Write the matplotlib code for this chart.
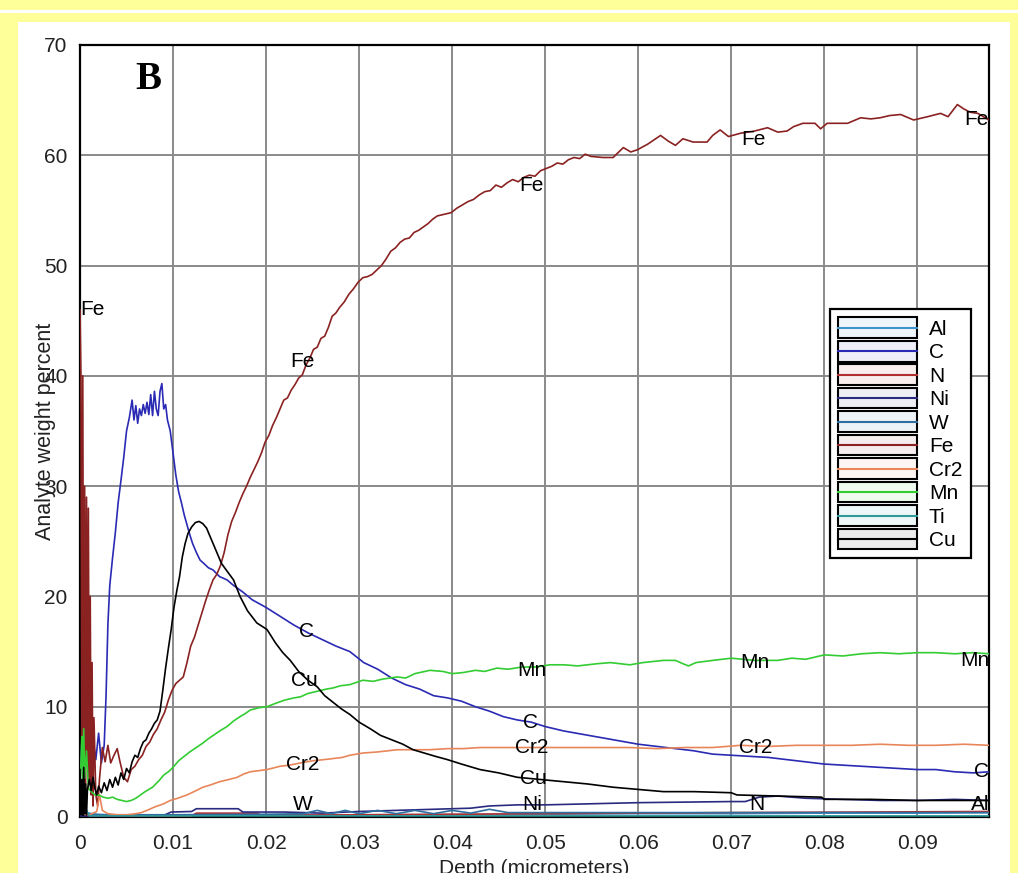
import numpy as np
import matplotlib
matplotlib.use("Agg")
import matplotlib.pyplot as plt
import matplotlib.colors as mcolors
from matplotlib.patches import Rectangle
from matplotlib.lines import Line2D
from matplotlib.legend_handler import HandlerBase

plt.rcParams['font.family'] = ['Liberation Sans', 'DejaVu Sans']

# depth (micrometers), analyte weight percent
fe_pts = [(0, 46), (0.0001, 40), (0.0002, 6), (0.0003, 40), (0.0004, 1), (0.0005, 30), (0.0006, 1),
          (0.0007, 29), (0.0008, 5), (0.0009, 28), (0.0010, 3), (0.0011, 20), (0.0012, 2), (0.0013, 14),
          (0.0014, 1), (0.0015, 9), (0.0017, 2), (0.0019, 1), (0.0021, 3.5), (0.0024, 6.3), (0.0027, 5.0),
          (0.0030, 6.5), (0.0033, 4.9), (0.0036, 5.5), (0.0040, 6.2), (0.0043, 5.0), (0.0047, 3.6),
          (0.0051, 3.2), (0.0055, 4.3), (0.0059, 4.6), (0.0063, 5.2), (0.0067, 5.6), (0.0071, 6.4),
          (0.0075, 6.8), (0.0079, 7.5), (0.0083, 8.0), (0.0087, 8.8), (0.0091, 9.5), (0.0095, 10.6),
          (0.0099, 11.5), (0.0103, 12.1), (0.0107, 12.4), (0.0111, 12.7), (0.0115, 14.0), (0.0119, 15.5),
          (0.0123, 16.3), (0.0127, 17.4), (0.0131, 18.5), (0.0135, 19.6), (0.0139, 20.6), (0.0143, 21.5),
          (0.0147, 22.0), (0.0151, 22.8), (0.0155, 24.0), (0.0159, 25.6), (0.0163, 26.8), (0.0167, 27.6),
          (0.0171, 28.5), (0.0175, 29.3), (0.0179, 30.0), (0.0183, 30.8), (0.0187, 31.5), (0.0191, 32.2),
          (0.0195, 33.0), (0.0199, 34.0), (0.0203, 34.6), (0.0207, 35.5), (0.0211, 36.2), (0.0215, 37.0),
          (0.0219, 37.8), (0.0223, 38.0), (0.0227, 38.7), (0.0231, 39.2), (0.0235, 39.8), (0.0239, 40.1),
          (0.0243, 41.0), (0.0247, 41.6), (0.0251, 42.4), (0.0255, 42.6), (0.0259, 43.4), (0.0263, 43.6),
          (0.0267, 44.4), (0.0271, 45.4), (0.0275, 45.7), (0.0279, 46.2), (0.0284, 46.7), (0.0289, 47.4),
          (0.0294, 47.9), (0.0299, 48.5), (0.0304, 48.9), (0.0309, 49.0), (0.0314, 49.2), (0.0319, 49.6),
          (0.0324, 50.0), (0.0329, 50.6), (0.0334, 51.3), (0.0339, 51.6), (0.0344, 52.1), (0.0349, 52.4),
          (0.0354, 52.5), (0.0359, 53.0), (0.0364, 53.2), (0.0369, 53.5), (0.0374, 53.8), (0.0379, 54.2),
          (0.0384, 54.5), (0.0389, 54.6), (0.0394, 54.7), (0.0399, 54.8), (0.0405, 55.2), (0.0411, 55.5),
          (0.0417, 55.8), (0.0423, 56.0), (0.0429, 56.4), (0.0435, 56.7), (0.0441, 56.8), (0.0447, 57.3),
          (0.0453, 57.1), (0.0459, 57.5), (0.0465, 57.8), (0.0471, 57.6), (0.0477, 58.0), (0.0483, 58.2),
          (0.0489, 58.1), (0.0495, 58.6), (0.0501, 58.8), (0.0507, 59.0), (0.0513, 59.3), (0.0519, 59.2),
          (0.0525, 59.6), (0.0531, 59.8), (0.0537, 59.7), (0.0543, 60.1), (0.0549, 59.9), (0.0562, 59.8),
          (0.0573, 59.8), (0.0584, 60.7), (0.0592, 60.3), (0.0599, 60.5), (0.0610, 61.0), (0.0624, 61.8),
          (0.0632, 61.3), (0.0640, 60.9), (0.0648, 61.5), (0.0659, 61.2), (0.0674, 61.2), (0.0680, 61.8),
          (0.0688, 62.3), (0.0697, 61.7), (0.0710, 62.0), (0.0725, 62.2), (0.0739, 62.5), (0.0750, 62.1),
          (0.0760, 62.2), (0.0767, 62.6), (0.0777, 62.9), (0.0790, 62.9), (0.0796, 62.4), (0.0803, 62.9),
          (0.0825, 62.9), (0.0839, 63.4), (0.0850, 63.3), (0.0860, 63.4), (0.0870, 63.6), (0.0882, 63.7),
          (0.0896, 63.2), (0.0911, 63.5), (0.0925, 63.8), (0.0933, 63.5), (0.0943, 64.6), (0.0950, 64.2),
          (0.0957, 63.9), (0.0965, 63.8), (0.0977, 63.2)]

c_pts = [(0, 3.0), (0.0003, 8.8), (0.0005, 7.5), (0.0008, 8.6), (0.0011, 6.4), (0.0014, 7.0), (0.0017, 5.2),
         (0.0020, 7.6), (0.0023, 4.9), (0.0026, 6.5), (0.0028, 11.0), (0.0030, 17.5), (0.0032, 21.0),
         (0.0035, 23.5), (0.0038, 25.8), (0.0041, 28.5), (0.0044, 30.5), (0.0047, 32.6), (0.0050, 35.0),
         (0.0053, 36.2), (0.0056, 37.8), (0.0058, 36.0), (0.0060, 37.3), (0.0062, 35.7), (0.0064, 37.0),
         (0.0066, 36.4), (0.0068, 37.4), (0.0070, 36.6), (0.0072, 37.6), (0.0074, 36.5), (0.0076, 38.3),
         (0.0078, 36.4), (0.0080, 38.6), (0.0082, 37.0), (0.0084, 36.4), (0.0086, 38.6), (0.0088, 39.3),
         (0.0090, 37.0), (0.0092, 37.4), (0.0094, 36.0), (0.0097, 35.0), (0.0100, 33.0), (0.0103, 31.0),
         (0.0106, 29.5), (0.0109, 28.5), (0.0112, 27.4), (0.0115, 26.5), (0.0118, 25.6), (0.0121, 24.8),
         (0.0125, 24.0), (0.0129, 23.3), (0.0133, 23.0), (0.0138, 22.6), (0.0143, 22.4), (0.0150, 21.8),
         (0.0158, 21.5), (0.0165, 21.0), (0.0175, 20.4), (0.0185, 19.7), (0.0200, 19.0), (0.0215, 18.2),
         (0.0230, 17.4), (0.0245, 16.7), (0.0260, 16.1), (0.0275, 15.5), (0.0290, 15.0), (0.0305, 14.0),
         (0.0320, 13.4), (0.0335, 12.6), (0.0350, 12.0), (0.0365, 11.6), (0.0380, 11.0), (0.0395, 10.8),
         (0.0410, 10.5), (0.0425, 10.0), (0.0440, 9.6), (0.0455, 9.1), (0.0470, 8.8), (0.0485, 8.6),
         (0.0500, 8.2), (0.0520, 7.8), (0.0540, 7.5), (0.0560, 7.2), (0.0580, 6.9), (0.0600, 6.6),
         (0.0620, 6.4), (0.0640, 6.2), (0.0660, 6.0), (0.0680, 5.7), (0.0700, 5.6), (0.0720, 5.5),
         (0.0740, 5.4), (0.0760, 5.2), (0.0780, 5.0), (0.0800, 4.8), (0.0820, 4.7), (0.0840, 4.6),
         (0.0860, 4.5), (0.0880, 4.4), (0.0900, 4.3), (0.0920, 4.3), (0.0940, 4.1), (0.0960, 4.0),
         (0.0977, 4.1)]

cu_pts = [(0, 4.3), (0.0001, 0.2), (0.0002, 3.4), (0.0003, 0.1), (0.0004, 4.5), (0.0005, 0.3), (0.0006, 3.0),
          (0.0007, 0.2), (0.0008, 2.5), (0.0010, 3.4), (0.0012, 2.4), (0.0014, 3.6), (0.0016, 2.6),
          (0.0018, 2.0), (0.0020, 2.8), (0.0023, 2.2), (0.0026, 3.1), (0.0029, 2.4), (0.0032, 3.4),
          (0.0035, 2.7), (0.0038, 3.6), (0.0041, 2.9), (0.0044, 4.0), (0.0047, 3.4), (0.0050, 4.4),
          (0.0053, 4.0), (0.0056, 5.0), (0.0059, 5.6), (0.0062, 5.4), (0.0065, 6.2), (0.0068, 6.8),
          (0.0071, 7.0), (0.0074, 7.6), (0.0077, 8.0), (0.0080, 8.5), (0.0083, 8.8), (0.0086, 9.6),
          (0.0089, 11.5), (0.0092, 13.5), (0.0095, 15.3), (0.0098, 17.0), (0.0101, 19.0), (0.0104, 20.5),
          (0.0107, 21.8), (0.0110, 23.6), (0.0113, 24.8), (0.0116, 25.7), (0.0120, 26.3), (0.0124, 26.7),
          (0.0128, 26.8), (0.0132, 26.6), (0.0136, 26.2), (0.0140, 25.4), (0.0144, 24.6), (0.0148, 23.8),
          (0.0152, 23.0), (0.0158, 22.3), (0.0165, 21.5), (0.0172, 20.0), (0.0180, 18.7), (0.0190, 17.6),
          (0.0201, 17.0), (0.0210, 15.8), (0.0218, 14.9), (0.0226, 14.2), (0.0235, 13.2), (0.0245, 12.4),
          (0.0255, 11.8), (0.0263, 11.0), (0.0272, 10.4), (0.0281, 9.8), (0.0290, 9.3), (0.0300, 8.6),
          (0.0312, 8.0), (0.0323, 7.4), (0.0335, 7.0), (0.0347, 6.6), (0.0358, 6.1), (0.0370, 5.8),
          (0.0382, 5.5), (0.0395, 5.2), (0.0410, 4.8), (0.0430, 4.3), (0.0450, 4.0), (0.0470, 3.6),
          (0.0495, 3.4), (0.0520, 3.2), (0.0545, 3.0), (0.0573, 2.7), (0.0600, 2.5), (0.0627, 2.3),
          (0.0660, 2.3), (0.0700, 2.2), (0.0706, 2.0), (0.0750, 1.9), (0.0797, 1.8), (0.0800, 1.6),
          (0.0850, 1.6), (0.0900, 1.5), (0.0977, 1.5)]

mn_pts = [(0, 2.5), (0.0001, 5.0), (0.0002, 7.3), (0.0003, 3.0), (0.0004, 8.0), (0.0005, 3.5), (0.0007, 6.0),
          (0.0009, 2.6), (0.0012, 2.3), (0.0016, 2.0), (0.0020, 2.0), (0.0025, 1.8), (0.0030, 1.7),
          (0.0035, 1.8), (0.0040, 1.6), (0.0045, 1.5), (0.0050, 1.4), (0.0055, 1.5), (0.0060, 1.7),
          (0.0065, 2.0), (0.0070, 2.3), (0.0078, 2.7), (0.0085, 3.3), (0.0090, 3.8), (0.0095, 4.1),
          (0.0100, 4.5), (0.0106, 5.1), (0.0112, 5.5), (0.0118, 5.9), (0.0125, 6.3), (0.0132, 6.7),
          (0.0138, 7.1), (0.0145, 7.5), (0.0152, 7.9), (0.0158, 8.2), (0.0165, 8.7), (0.0172, 9.1),
          (0.0178, 9.4), (0.0183, 9.7), (0.0192, 9.9), (0.0201, 10.0), (0.0210, 10.3), (0.0220, 10.6),
          (0.0230, 10.8), (0.0237, 10.9), (0.0245, 11.2), (0.0255, 11.4), (0.0265, 11.6), (0.0272, 11.7),
          (0.0280, 11.9), (0.0290, 12.0), (0.0304, 12.4), (0.0315, 12.3), (0.0325, 12.5), (0.0341, 12.7),
          (0.0350, 12.6), (0.0360, 13.0), (0.0376, 13.3), (0.0390, 13.2), (0.0400, 13.0), (0.0412, 13.1),
          (0.0425, 13.3), (0.0435, 13.2), (0.0448, 13.5), (0.0460, 13.4), (0.0475, 13.6), (0.0490, 13.6),
          (0.0505, 13.8), (0.0520, 13.8), (0.0535, 13.7), (0.0556, 13.9), (0.0570, 14.0), (0.0591, 13.8),
          (0.0605, 14.0), (0.0627, 14.2), (0.0640, 14.2), (0.0648, 13.9), (0.0654, 13.7), (0.0662, 14.0),
          (0.0680, 14.2), (0.0700, 14.4), (0.0725, 14.2), (0.0750, 14.2), (0.0765, 14.4), (0.0780, 14.3),
          (0.0800, 14.7), (0.0820, 14.6), (0.0840, 14.8), (0.0860, 14.9), (0.0880, 14.8), (0.0900, 14.9),
          (0.0920, 14.9), (0.0940, 14.8), (0.0960, 14.9), (0.0977, 14.8)]

cr2_pts = [(0, 0.3), (0.0010, 0.2), (0.0018, 0.5), (0.0021, 2.0), (0.0024, 0.6), (0.0030, 0.3), (0.0040, 0.2),
           (0.0050, 0.2), (0.0060, 0.3), (0.0066, 0.4), (0.0072, 0.6), (0.0080, 0.9), (0.0090, 1.2),
           (0.0097, 1.5), (0.0105, 1.7), (0.0115, 2.0), (0.0125, 2.4), (0.0132, 2.7), (0.0140, 2.9),
           (0.0150, 3.2), (0.0160, 3.4), (0.0169, 3.6), (0.0176, 3.9), (0.0183, 4.1), (0.0192, 4.2),
           (0.0201, 4.3), (0.0215, 4.6), (0.0225, 4.7), (0.0237, 4.9), (0.0250, 5.1), (0.0262, 5.2),
           (0.0272, 5.3), (0.0282, 5.4), (0.0290, 5.6), (0.0304, 5.8), (0.0320, 5.9), (0.0341, 6.1),
           (0.0360, 6.1), (0.0376, 6.1), (0.0395, 6.2), (0.0412, 6.2), (0.0430, 6.3), (0.0448, 6.3),
           (0.0470, 6.3), (0.0500, 6.3), (0.0530, 6.3), (0.0560, 6.3), (0.0590, 6.3), (0.0620, 6.2),
           (0.0650, 6.3), (0.0680, 6.3), (0.0710, 6.5), (0.0740, 6.4), (0.0770, 6.5), (0.0800, 6.5),
           (0.0830, 6.5), (0.0860, 6.6), (0.0890, 6.5), (0.0920, 6.5), (0.0950, 6.6), (0.0977, 6.5)]

ni_pts = [(0, 0.1), (0.0020, 0.1), (0.0090, 0.15), (0.0098, 0.45), (0.0120, 0.5), (0.0125, 0.75),
          (0.0170, 0.75), (0.0175, 0.45), (0.0220, 0.45), (0.0260, 0.35), (0.0300, 0.5), (0.0340, 0.6),
          (0.0380, 0.7), (0.0420, 0.8), (0.0440, 1.0), (0.0470, 1.1), (0.0500, 1.1), (0.0550, 1.2),
          (0.0600, 1.3), (0.0650, 1.35), (0.0700, 1.4), (0.0715, 1.4), (0.0730, 1.8), (0.0750, 1.9),
          (0.0780, 1.7), (0.0820, 1.6), (0.0860, 1.5), (0.0900, 1.5), (0.0940, 1.6), (0.0977, 1.5)]

n_pts = [(0, 0.5), (0.0002, 3.0), (0.0004, 0.2), (0.0010, 0.1), (0.0050, 0.1), (0.0120, 0.1), (0.0125, 0.35),
         (0.0190, 0.35), (0.0195, 0.15), (0.0300, 0.2), (0.0500, 0.3), (0.0700, 0.4), (0.0977, 0.5)]

w_pts = [(0, 0.3), (0.0030, 0.2), (0.0100, 0.2), (0.0200, 0.25), (0.0240, 0.3), (0.0255, 0.6), (0.0270, 0.3),
         (0.0285, 0.6), (0.0300, 0.3), (0.0320, 0.6), (0.0340, 0.3), (0.0360, 0.6), (0.0380, 0.3),
         (0.0400, 0.6), (0.0420, 0.35), (0.0440, 0.7), (0.0460, 0.4), (0.0500, 0.4), (0.0600, 0.4),
         (0.0700, 0.4), (0.0800, 0.4), (0.0900, 0.4), (0.0977, 0.4)]

al_pts = [(0, 0.5), (0.0020, 0.2), (0.0100, 0.2), (0.0300, 0.2), (0.0500, 0.25), (0.0600, 0.3),
          (0.0700, 0.3), (0.0800, 0.35), (0.0900, 0.35), (0.0977, 0.4)]

ti_pts = [(0, 1.5), (0.0003, 0.1), (0.0006, 0.8), (0.0010, 0.1), (0.0020, 0.1), (0.0100, 0.1),
          (0.0300, 0.1), (0.0500, 0.1), (0.0700, 0.1), (0.0977, 0.1)]

elements = ['Al', 'C', 'N', 'Ni', 'W', 'Fe', 'Cr2', 'Mn', 'Ti', 'Cu']
series = {'Al': al_pts, 'C': c_pts, 'N': n_pts, 'Ni': ni_pts, 'W': w_pts, 'Fe': fe_pts,
          'Cr2': cr2_pts, 'Mn': mn_pts, 'Ti': ti_pts, 'Cu': cu_pts}
colors = {'Al': '#3f93cc', 'C': '#2a2ab4', 'N': '#b03030', 'Ni': '#2a2a80', 'W': '#2f6f9f',
          'Fe': '#8b2222', 'Cr2': '#e8865a', 'Mn': '#33cc33', 'Ti': '#2e9a9a', 'Cu': '#000000'}

# inline curve labels: (element, depth, alignment, nudge in weight percent)
curve_labels = [('Fe', 0.0, 'left', 0), ('Fe', 0.0239, 'center', 1.2), ('Fe', 0.0485, 'center', -0.9),
                ('Fe', 0.0724, 'center', -0.8), ('Fe', 0.0977, 'right', 0),
                ('C', 0.0243, 'center', 0), ('C', 0.0484, 'center', 0), ('C', 0.0977, 'right', 0),
                ('Cu', 0.0241, 'center', -0.3), ('Cu', 0.0487, 'center', 0),
                ('Mn', 0.0486, 'center', -0.3), ('Mn', 0.0725, 'center', -0.2), ('Mn', 0.0977, 'right', -0.6),
                ('Cr2', 0.0239, 'center', -0.2), ('Cr2', 0.0485, 'center', 0), ('Cr2', 0.0726, 'center', -0.15),
                ('W', 0.0239, 'center', 0), ('Ni', 0.0486, 'center', 0), ('N', 0.0727, 'center', 0),
                ('Al', 0.0977, 'right', 0)]

xticks = [0, 0.01, 0.02, 0.03, 0.04, 0.05, 0.06, 0.07, 0.08, 0.09]
xtick_labels = ['0', '0.01', '0.02', '0.03', '0.04', '0.05', '0.06', '0.07', '0.08', '0.09']
yticks = [0, 10, 20, 30, 40, 50, 60, 70]


class BoxLineHandler(HandlerBase):
    # legend key: framed box with the series line through the middle
    def create_artists(self, legend, orig_handle, xdescent, ydescent, width, height, fontsize, trans):
        col = orig_handle.get_color()
        box = Rectangle((-xdescent, -ydescent), width, height, facecolor=mcolors.to_rgba(col, 0.08),
                        edgecolor='black', linewidth=1.5, transform=trans)
        ln = Line2D([-xdescent, -xdescent + width], [-ydescent + height / 2] * 2,
                    color=col, linewidth=1.5, transform=trans)
        return [box, ln]


W, H = 1018, 873
fig = plt.figure(figsize=(W / 100, H / 100), dpi=100, facecolor='#ffff99')
# page frame: white panel and thin white strip on yellow
fig.patches.append(Rectangle((18 / W, 0), (1010 - 18) / W, (H - 22) / H, transform=fig.transFigure,
                             facecolor='white', edgecolor='none', zorder=-2))
fig.patches.append(Rectangle((0, (H - 13) / H), 1, 3 / H, transform=fig.transFigure,
                             facecolor='white', edgecolor='none', zorder=-2))

ax = fig.add_axes([80 / W, (H - 817) / H, (989 - 80) / W, (817 - 45) / H])
ax.set_zorder(1)
ax.set_facecolor('white')

for el in elements:
    d, v = zip(*series[el])
    ax.plot(d, v, color=colors[el], linewidth=1.2, label=el, zorder=3)

for el, xd, ha, dy in curve_labels:
    d, v = zip(*series[el])
    yv = max(float(np.interp(xd, d, v)) + dy, 1.1)
    ax.text(xd, yv, el, ha=ha, va='center', fontsize=15, color='black', zorder=4)

ax.set_xlim(0, 0.0977)
ax.set_ylim(0, 70)
ax.set_xticks(xticks)
ax.set_xticklabels(xtick_labels)
ax.set_yticks(yticks)
ax.tick_params(length=0, labelsize=15, labelcolor='#222222')
ax.tick_params(axis='x', pad=12)
ax.tick_params(axis='y', pad=9)
ax.grid(True, color='#8a8a8a', linewidth=1.4)
ax.set_axisbelow(True)
for sp in ax.spines.values():
    sp.set_linewidth(1.6)
    sp.set_color('black')

ax.set_xlabel('Depth (micrometers)', fontsize=15, color='#222222')
ax.xaxis.set_label_coords(0.5, -0.054)
ax.set_ylabel('Analyte weight percent', fontsize=15.5, color='#222222')
ax.yaxis.set_label_coords(-0.026, 0.499)

ax.text(0.0748, 0.955, 'B', transform=ax.transAxes, ha='center', va='center',
        fontsize=28, fontweight='bold', family='Liberation Serif', zorder=5)

leg = ax.legend(loc='upper left', bbox_to_anchor=(0.825, 0.658), borderaxespad=0,
                handler_map={Line2D: BoxLineHandler()}, fontsize=15, handlelength=3.8,
                handleheight=1.15, labelspacing=0.1, handletextpad=0.55, borderpad=0.4,
                fancybox=False, framealpha=1, edgecolor='black')
leg.get_frame().set_linewidth(1.6)
leg.set_zorder(6)

fig.savefig('out.png', dpi=100, facecolor=fig.get_facecolor())
